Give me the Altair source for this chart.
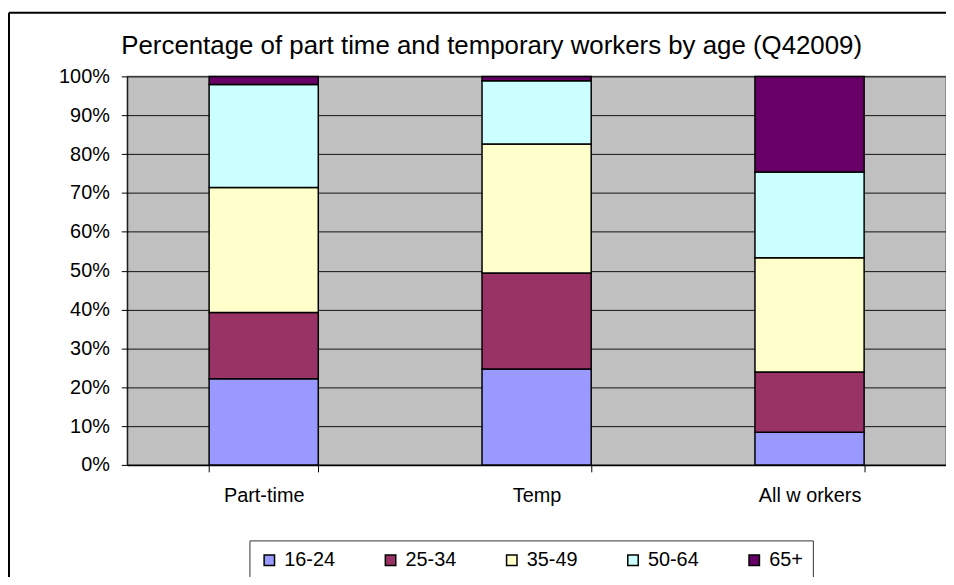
import altair as alt
import pandas as pd

categories = ["Part-time", "Temp", "All w orkers"]
age_groups = ["16-24", "25-34", "35-49", "50-64", "65+"]
part_time = [22.2, 17.0, 32.2, 26.5, 2.1]
temp = [24.7, 24.7, 33.2, 16.3, 1.1]
all_workers = [8.4, 15.5, 29.4, 22.1, 24.6]
colors = ["#9999FF", "#993366", "#FFFFCC", "#CCFFFF", "#660066"]
y_ticks = [0, 10, 20, 30, 40, 50, 60, 70, 80, 90, 100]

rows = []
for cat, vals in zip(categories, [part_time, temp, all_workers]):
    for i, (g, v) in enumerate(zip(age_groups, vals)):
        rows.append({"cat": cat, "age": g, "idx": i, "value": v})
df = pd.DataFrame(rows)

FONT = "Liberation Sans"

bars = alt.Chart(df).mark_bar(stroke="black", strokeWidth=1.5).encode(
    x=alt.X("cat:N", sort=categories, title=None,
            scale=alt.Scale(paddingInner=0.6, paddingOuter=0.3),
            axis=alt.Axis(labelAngle=0, tickBand="extent", tickSize=7,
                          labelPadding=14, labelFontSize=20, labelFont=FONT,
                          labelColor="black", domainColor="black",
                          tickColor="black", domainWidth=1.5)),
    y=alt.Y("value:Q", stack="zero", title=None,
            scale=alt.Scale(domain=[0, 100], nice=False),
            axis=alt.Axis(values=y_ticks, labelExpr="datum.value + '%'",
                          tickSize=6, labelPadding=12, labelFontSize=20,
                          labelFont=FONT, labelColor="black",
                          domainColor="black", tickColor="black",
                          grid=True, gridColor="#111111", gridWidth=1)),
    color=alt.Color("age:N", sort=age_groups,
                    scale=alt.Scale(domain=age_groups, range=colors),
                    legend=alt.Legend(title=None, orient="none",
                                      direction="horizontal",
                                      legendX=123, legendY=467,
                                      symbolType="square", symbolSize=110,
                                      symbolStrokeColor="black",
                                      symbolStrokeWidth=1.5,
                                      labelFontSize=20, labelFont=FONT,
                                      labelColor="black", labelOffset=5,
                                      columnPadding=45, padding=10,
                                      strokeColor="#333333",
                                      fillColor="white")),
    order=alt.Order("idx:Q", sort="ascending"),
)

title_text = "Percentage of part time and temporary workers by age (Q42009)"
title_df = pd.DataFrame({"t": [title_text]})
title_mark = alt.Chart(title_df).mark_text(
    font=FONT, fontSize=26, color="black", align="left", baseline="alphabetic"
).encode(text="t:N", x=alt.value(-6), y=alt.value(-23))

frame_df = pd.DataFrame({"a": [0]})
frame_top = alt.Chart(frame_df).mark_rule(color="black", strokeWidth=2).encode(
    x=alt.value(-119), x2=alt.value(830), y=alt.value(-64))
frame_left = alt.Chart(frame_df).mark_rule(color="black", strokeWidth=2).encode(
    x=alt.value(-119), y=alt.value(-64), y2=alt.value(520))

chart = alt.layer(bars, title_mark, frame_top, frame_left).properties(
    width=824, height=391,
    padding={"left": 120, "top": 67, "right": 0, "bottom": 111},
    autosize=alt.AutoSizeParams(type="none"),
    background="white",
).configure_view(fill="#C0C0C0", stroke="#808080", strokeWidth=1.5)

chart.save("out.html", embed_options={"renderer": "svg", "actions": False})
